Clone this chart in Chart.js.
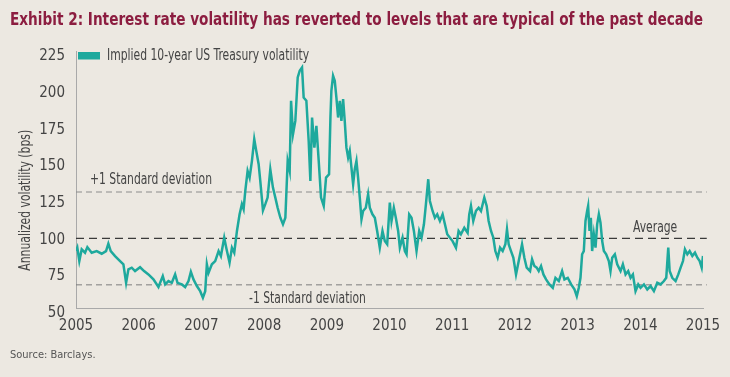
<!DOCTYPE html>
<html><head><meta charset="utf-8">
<script src="https://cdn.jsdelivr.net/npm/chart.js@4.4.0/dist/chart.umd.min.js"></script>
<style>html,body{margin:0;padding:0;background:#ece8e1;}canvas{display:block;}</style>
</head><body>
<canvas id="c" width="730" height="377"></canvas>
<script>
// ---- data ----
const dates = [
2005.000,2005.021,2005.053,2005.091,2005.144,2005.181,2005.250,2005.330,2005.410,2005.479,2005.516,2005.554,2005.623,2005.703,2005.756,2005.799,2005.836,2005.889,2005.942,
2006.022,2006.086,2006.155,2006.235,2006.315,2006.384,2006.422,2006.475,2006.528,2006.581,2006.619,2006.688,2006.741,2006.794,2006.832,2006.874,2006.928,2006.981,
2007.024,2007.061,2007.087,2007.114,2007.167,2007.220,2007.274,2007.311,2007.364,2007.396,2007.449,2007.487,2007.524,2007.567,2007.609,2007.646,2007.673,2007.700,2007.737,2007.769,2007.806,2007.843,2007.875,2007.913,2007.939,2007.982,
2008.019,2008.056,2008.099,2008.141,2008.179,2008.216,2008.259,2008.301,2008.339,2008.376,2008.408,2008.430,2008.461,2008.498,2008.536,2008.568,2008.605,2008.631,2008.674,2008.711,2008.738,2008.765,2008.802,2008.834,2008.871,2008.908,2008.951,2008.988,
2009.036,2009.058,2009.073,2009.100,2009.127,2009.153,2009.180,2009.207,2009.233,2009.260,2009.286,2009.313,2009.340,2009.366,2009.393,2009.420,2009.446,2009.473,2009.499,2009.526,2009.553,2009.579,2009.622,2009.659,2009.686,2009.728,2009.766,2009.803,2009.845,2009.888,2009.925,2009.963,
2010.005,2010.032,2010.069,2010.101,2010.138,2010.165,2010.208,2010.245,2010.272,2010.314,2010.351,2010.389,2010.431,2010.474,2010.511,2010.549,2010.581,2010.618,2010.644,2010.687,2010.724,2010.761,2010.804,2010.847,2010.884,2010.921,2010.964,
2011.006,2011.060,2011.102,2011.139,2011.193,2011.246,2011.272,2011.299,2011.336,2011.379,2011.422,2011.459,2011.512,2011.550,2011.581,2011.619,2011.656,2011.688,2011.725,2011.763,2011.805,2011.848,2011.874,2011.901,2011.938,2011.975,
2012.018,2012.061,2012.114,2012.151,2012.188,2012.242,2012.274,2012.311,2012.348,2012.380,2012.417,2012.455,2012.497,2012.551,2012.604,2012.647,2012.700,2012.753,2012.790,2012.843,2012.897,2012.950,2012.987,
2013.019,2013.046,2013.072,2013.099,2013.126,2013.152,2013.168,2013.190,2013.211,2013.232,2013.259,2013.286,2013.312,2013.339,2013.365,2013.392,2013.419,2013.456,2013.498,2013.525,2013.552,2013.594,2013.632,2013.685,2013.722,2013.765,2013.807,2013.845,2013.882,2013.924,2013.967,
2014.004,2014.058,2014.111,2014.164,2014.217,2014.271,2014.324,2014.377,2014.414,2014.446,2014.468,2014.510,2014.563,2014.606,2014.643,2014.681,2014.712,2014.750,2014.787,2014.830,2014.872,2014.910,2014.947,2014.979,2015.000
];
const vol = [
89.3,91.6,82.5,90.5,88.2,92,88.2,89.3,87.5,89.3,94.3,89.3,85.9,82.5,80.3,67.7,76.9,78,75.7,
78.3,75.7,73.4,70,64.8,72.3,66.6,68.9,67.7,73.4,67.7,66.6,64.8,68.9,75.2,70,65.5,62,
57.5,62,80.3,74.5,80.3,82.5,89.3,85.9,98.4,91.6,81.4,91.6,88.2,103,114.3,121.2,117.8,130.2,143.9,139.3,150.7,165.5,157.5,148.4,137,117,
121.2,125.7,145,132.5,125.7,118.8,112,107.5,112,150.7,143.9,191.6,168.9,177.9,207.5,212,214.3,193.8,191.6,164.3,137,180.2,159.7,174.5,150.7,125.7,120,139.3,
141.6,180.2,198.4,208.6,205.2,193.8,180.2,191.6,177.9,192.7,177.9,159.7,152.9,157.5,146.1,134.8,145,150.7,139.3,125.7,110.9,116.6,118.8,128,118.8,114.3,112,103,91.6,103,96.1,93.9,
122.3,109.8,118.8,112,103,91.6,98.4,89.3,87.1,114.3,112,103,89.3,103,98.4,107.5,121.2,138.2,123.4,116.6,112,114.3,109.8,114.3,107.5,100.7,98.4,
96.1,91.6,103,100.7,105.2,101.7,114.3,120,109.8,116.6,118.8,116.6,125.7,120,109.8,103,98.4,89.3,84.8,91.6,89.3,93.9,104.1,93.9,89.3,84.8,
73.4,82.5,93.9,84.8,78,75.7,83.7,79.1,78,75.7,79.1,73.4,70,66.6,64.3,71.1,68.9,75.7,70,71.1,66.6,63.2,58.6,
64.3,71.1,87.1,89.3,109.8,116.6,120,103,112,89.3,100.7,91.6,107.5,114.3,108.6,96.1,89.3,87.1,82.5,75.7,84.8,87.1,80.3,75.7,80.3,73.4,75.7,71.1,73.4,62,66.6,
64.3,66.6,63.2,65.5,62,67.7,66.6,68.9,71.1,91.6,75.7,71.1,68.9,73.4,78,82.5,90.5,87.1,89.3,86,88.2,84.8,82.5,78,86
];
const xTicks = [2005,2006,2007,2008,2009,2010,2011,2012,2013,2014,2015];
const yTicks = [50,75,100,125,150,175,200,225];
const refLevels = [129.5, 98, 66.3];
const refLabels = ['+1 Standard deviation', 'Average', '-1 Standard deviation'];
const seriesName = 'Implied 10-year US Treasury volatility';
const titleText = 'Exhibit 2: Interest rate volatility has reverted to levels that are typical of the past decade';
const sourceText = 'Source: Barclays.';
const yTitle = 'Annualized volatility (bps)';

// ---- styling ----
const FONT = "'Liberation Sans Narrow', 'DejaVu Sans Condensed', 'Roboto Condensed', 'Open Sans', sans-serif";
const TEAL = '#1ea99d';
const BG = '#ece8e1';
const TXT = '#444444';
const SX = 0.80; // horizontal condensing of annotation text
const refStyles = [
  {color:'#8c8c8c', dash:[6,4], width:1},
  {color:'#3a3a3a', dash:[8,5], width:1.2},
  {color:'#7c7c7c', dash:[6,4], width:1}
];

function label(c, s, x, y, align) {
  c.save();
  c.translate(x, y);
  c.scale(SX, 1);
  c.textAlign = align;
  c.fillText(s, 0, 0);
  c.restore();
}

const extras = {
  id: 'extras',
  beforeDraw(chart) {
    const c = chart.ctx;
    c.save(); c.fillStyle = BG; c.fillRect(0, 0, chart.width, chart.height); c.restore();
  },
  afterDraw(chart) {
    const c = chart.ctx, a = chart.chartArea, y = chart.scales.y;
    c.save();
    c.textBaseline = 'middle';
    // legend
    c.fillStyle = TEAL;
    c.fillRect(a.left + 2, a.top + 0.3, 22, 7.5);
    c.fillStyle = TXT;
    c.font = '15px ' + FONT;
    label(c, seriesName, a.left + 31, a.top + 4.2, 'left');
    // reference line labels
    label(c, refLabels[0], a.left + 14, y.getPixelForValue(refLevels[0]) - 12, 'left');
    label(c, refLabels[1], 633, y.getPixelForValue(refLevels[1]) - 10, 'left');
    label(c, refLabels[2], 249, y.getPixelForValue(refLevels[2]) + 14.5, 'left');
    // y axis title
    c.translate(26, (a.top + a.bottom) / 2 + 20);
    c.rotate(-Math.PI / 2);
    label(c, yTitle, 0, 0, 'center');
    c.restore();
  }
};

const datasets = [{
  label: seriesName,
  data: dates.map((d, i) => ({x: d, y: vol[i]})),
  borderColor: TEAL, backgroundColor: TEAL, borderWidth: 2.5,
  pointRadius: 0, tension: 0, order: 0
}].concat(refLevels.map((lv, i) => ({
  label: refLabels[i],
  data: [{x: 2005, y: lv}, {x: 2015.06, y: lv}],
  borderColor: refStyles[i].color, borderDash: refStyles[i].dash, borderWidth: refStyles[i].width,
  pointRadius: 0, order: 1, clip: 6
})));

new Chart(document.getElementById('c'), {
  type: 'line',
  data: {datasets},
  plugins: [extras],
  options: {
    responsive: false, animation: false, devicePixelRatio: 1,
    layout: {padding: {left: 10, right: 27, top: 0, bottom: 0}},
    plugins: {
      legend: {display: false},
      tooltip: {enabled: false},
      title: {display: true, text: titleText, align: 'start', color: '#8c1d40',
        font: {family: FONT, size: 17, weight: 'bold'}, padding: {top: 10, bottom: 21.3}},
      subtitle: {display: true, text: sourceText, position: 'bottom', align: 'start', color: '#555555',
        font: {family: FONT, size: 11}, padding: {top: 0, bottom: 15}}
    },
    scales: {
      x: {
        type: 'linear', min: 2005, max: 2015,
        grid: {display: false, drawTicks: false},
        border: {display: true, color: '#a9a9a9', width: 1},
        afterBuildTicks: s => { s.ticks = xTicks.map(v => ({value: v})); },
        afterFit: s => { s.height = 40; },
        ticks: {padding: 8, color: TXT, font: {family: FONT, size: 15}, maxRotation: 0, autoSkip: false,
          callback: v => String(v)}
      },
      y: {
        min: 50, max: 225,
        grid: {display: false, drawTicks: false},
        border: {display: true, color: '#a9a9a9', width: 1},
        afterBuildTicks: s => { s.ticks = yTicks.map(v => ({value: v})); },
        afterFit: s => { s.width = 66; },
        ticks: {padding: 11, labelOffset: 4.5, color: TXT, font: {family: FONT, size: 15},
          callback: v => String(v)}
      }
    }
  }
});
</script>
</body></html>
